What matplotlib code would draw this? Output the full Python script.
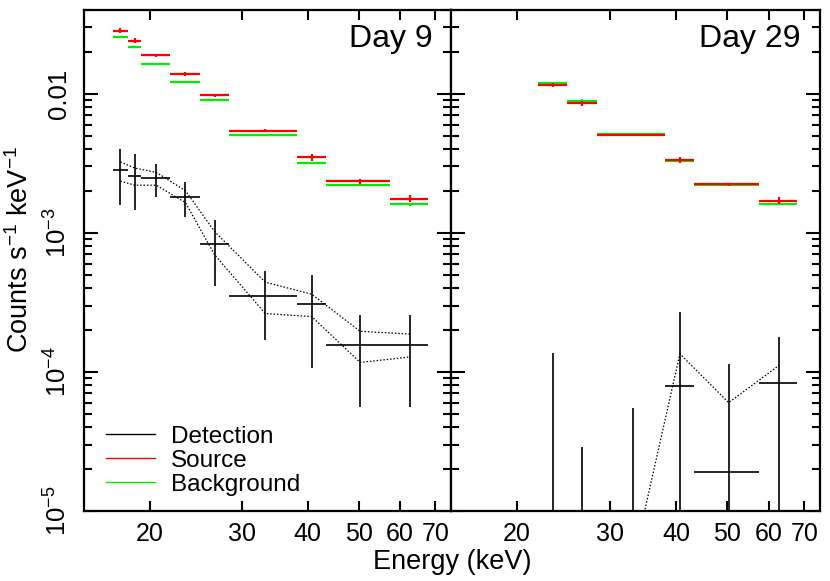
import numpy as np
import matplotlib
matplotlib.use("Agg")
import matplotlib.pyplot as plt
from matplotlib.lines import Line2D
from matplotlib.ticker import FixedLocator, NullLocator, LogLocator, NullFormatter

plt.rcParams['font.family'] = ['Liberation Sans', 'DejaVu Sans']
plt.rcParams['mathtext.fontset'] = 'custom'
plt.rcParams['mathtext.rm'] = 'Liberation Sans'
plt.rcParams['mathtext.default'] = 'regular'

# energy bins (keV)
bin_lo = np.array([17.0, 18.2, 19.3, 21.9, 24.9, 28.3, 38.1, 43.3, 57.4])
bin_hi = np.array([18.2, 19.3, 21.9, 24.9, 28.3, 38.1, 43.3, 57.4, 67.9])

# Day 9
src9 = np.array([0.0284, 0.0241, 0.01886, 0.01386, 0.00972, 0.00544, 0.00348, 0.00234, 0.00176])
src9_err = np.array([0.0011, 0.0010, 0.0006, 0.0005, 0.0003, 0.00012, 0.00018, 0.00008, 0.00010])
bkg9 = np.array([0.0257, 0.0215, 0.01644, 0.01206, 0.00895, 0.00509, 0.00319, 0.00219, 0.00161])
bkg9_err = np.array([0.0004, 0.0003, 0.0002, 0.0002, 0.0001, 0.00005, 0.00006, 0.00003, 0.00004])
det9 = np.array([2.81e-3, 2.58e-3, 2.49e-3, 1.82e-3, 8.29e-4, 3.52e-4, 3.07e-4, 1.56e-4, 1.56e-4])
det9_hi = np.array([4.02e-3, 3.68e-3, 3.13e-3, 2.33e-3, 1.24e-3, 5.30e-4, 5.01e-4, 2.56e-4, 2.56e-4])
det9_lo = np.array([1.58e-3, 1.45e-3, 1.82e-3, 1.30e-3, 4.16e-4, 1.69e-4, 1.07e-4, 5.57e-5, 5.6e-5])
band9_hi = np.array([3.23e-3, 2.92e-3, 2.72e-3, 2.01e-3, 1.02e-3, 4.42e-4, 3.62e-4, 1.96e-4, 1.87e-4])
band9_lo = np.array([2.35e-3, 2.20e-3, 2.20e-3, 1.65e-3, 6.95e-4, 2.63e-4, 2.50e-4, 1.17e-4, 1.28e-4])

# Day 29 (bins 4-9 only)
src29 = np.array([0.01161, 0.00852, 0.00507, 0.00333, 0.00224, 0.00170])
src29_err = np.array([0.0004, 0.0003, 0.00008, 0.00015, 0.00006, 0.00010])
bkg29 = np.array([0.01186, 0.00890, 0.00515, 0.00326, 0.00222, 0.00162])
bkg29_err = np.array([0.0002, 0.0002, 0.00005, 0.00005, 0.00003, 0.00004])
det29 = np.array([np.nan, np.nan, np.nan, 7.93e-5, 1.90e-5, 8.37e-5])
det29_hi = np.array([1.36e-4, 2.89e-5, 5.48e-5, 2.69e-4, 1.14e-4, 1.78e-4])
band29 = np.array([4.3e-6, 1.35e-4, 6.01e-5, 1.11e-4])

xticks = [20, 30, 40, 50, 60, 70]
yticks = [1e-5, 1e-4, 1e-3, 1e-2]
ytick_labels = ['$10^{-5}$', '$10^{-4}$', '$10^{-3}$', '0.01']

fig = plt.figure(figsize=(8.3, 5.81), dpi=100)
ax1 = fig.add_axes([0.1012, 0.1205, 0.4422, 0.8623])
ax2 = fig.add_axes([0.5434, 0.1205, 0.4446, 0.8623])


def draw_rates(ax, lo, hi, src, src_err, bkg, bkg_err):
    mid = (lo + hi) / 2
    ax.errorbar(mid, bkg, xerr=[mid - lo, hi - mid], yerr=bkg_err, fmt='none',
                ecolor='#00ee00', elinewidth=1.6, capsize=0)
    ax.errorbar(mid, src, xerr=[mid - lo, hi - mid], yerr=src_err, fmt='none',
                ecolor='#ff0000', elinewidth=1.6, capsize=0)


# Day 9
mid9 = (bin_lo + bin_hi) / 2
draw_rates(ax1, bin_lo, bin_hi, src9, src9_err, bkg9, bkg9_err)
ax1.errorbar(mid9, det9, xerr=[mid9 - bin_lo, bin_hi - mid9],
             yerr=[det9 - det9_lo, det9_hi - det9], fmt='none',
             ecolor='black', elinewidth=1.2, capsize=0)
ax1.plot(mid9, band9_hi, color='black', ls=(0, (1.2, 1.5)), lw=0.9)
ax1.plot(mid9, band9_lo, color='black', ls=(0, (1.2, 1.5)), lw=0.9)

# Day 29
lo29, hi29 = bin_lo[3:], bin_hi[3:]
mid29 = (lo29 + hi29) / 2
draw_rates(ax2, lo29, hi29, src29, src29_err, bkg29, bkg29_err)
ax2.vlines(mid29, 1e-6, det29_hi, color='black', lw=1.2)
ok = ~np.isnan(det29)
ax2.hlines(det29[ok], lo29[ok], hi29[ok], color='black', lw=1.2)
ax2.plot(mid29[2:], band29, color='black', ls=(0, (1.2, 1.5)), lw=0.9)

for ax in (ax1, ax2):
    ax.set_xscale('log')
    ax.set_yscale('log')
    ax.set_xlim(15, 75)
    ax.set_ylim(1e-5, 0.04)
    ax.xaxis.set_major_locator(FixedLocator(xticks))
    ax.xaxis.set_minor_locator(NullLocator())
    ax.set_xticklabels([str(t) for t in xticks])
    ax.yaxis.set_major_locator(FixedLocator(yticks))
    ax.yaxis.set_minor_locator(LogLocator(base=10, subs=np.arange(2, 10)))
    ax.yaxis.set_minor_formatter(NullFormatter())
    ax.tick_params(which='both', direction='in', top=True, right=True, width=1.5)
    ax.tick_params(axis='x', which='major', length=7, labelsize=18, pad=8)
    ax.tick_params(axis='y', which='major', length=10)
    ax.tick_params(axis='y', which='minor', length=6)
    for s in ax.spines.values():
        s.set_linewidth(1.6)

ax1.set_yticklabels(ytick_labels, rotation=90, va='center')
ax1.tick_params(axis='y', which='major', labelsize=18.5, pad=9)
ax2.set_yticklabels([])

ax1.text(0.95, 0.926, 'Day 9', transform=ax1.transAxes, ha='right', va='baseline', fontsize=23)
ax2.text(0.948, 0.926, 'Day 29', transform=ax2.transAxes, ha='right', va='baseline', fontsize=23)

handles = [Line2D([], [], color='black', lw=1.0),
           Line2D([], [], color='#ff0000', lw=1.0),
           Line2D([], [], color='#00ee00', lw=1.0)]
ax1.legend(handles, ['Detection', 'Source', 'Background'], loc='lower left',
           bbox_to_anchor=(0.06, 0.03), frameon=False, fontsize=17.5,
           handlelength=2.0, handletextpad=0.66, labelspacing=0.085,
           borderaxespad=0, borderpad=0)

fig.text(0.024, 0.570, 'Counts s$^{-1}$ keV$^{-1}$', rotation=90,
         ha='center', va='center', fontsize=19.5)
fig.text(0.545, 0.033, 'Energy (keV)', ha='center', va='center', fontsize=19.5)

fig.savefig('out.png', dpi=100)
